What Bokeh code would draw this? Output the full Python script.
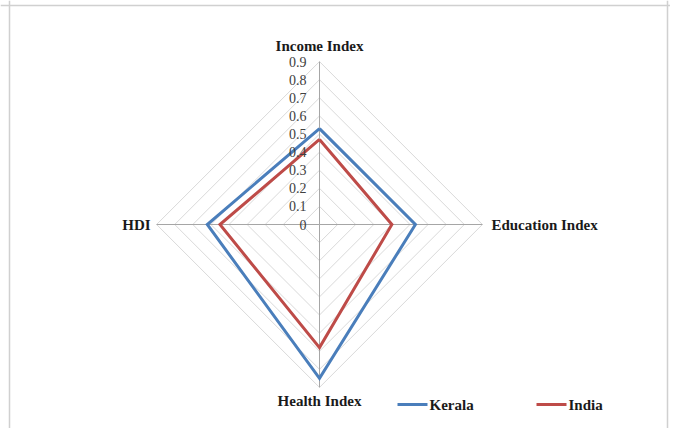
from bokeh.plotting import figure
from bokeh.models import Range1d, Span
from bokeh.core.properties import value
from bokeh.embed import file_html
from bokeh.resources import INLINE
import math

# ---- data ----
categories = ["Income Index", "Education Index", "Health Index", "HDI"]
cat_angles_deg = [90, 0, -90, 180]
series_names = ["Kerala", "India"]
kerala = [0.53, 0.53, 0.85, 0.62]
india = [0.47, 0.40, 0.68, 0.55]
ticks = [0, 0.1, 0.2, 0.3, 0.4, 0.5, 0.6, 0.7, 0.8, 0.9]
tick_labels = ["0", "0.1", "0.2", "0.3", "0.4", "0.5", "0.6", "0.7", "0.8", "0.9"]
r_max = 0.9

# ---- layout ----
W, H = 670, 428
PX = 181.0           # pixels per data unit
cx, cy = 319, 224    # centre in figure pixels
colors = ["#4a7ebb", "#be4b48"]
FONT = value("Times New Roman")

p = figure(width=W, height=H, output_backend="svg", toolbar_location=None,
           x_range=Range1d(-cx / PX, (W - cx) / PX),
           y_range=Range1d(-(H - cy) / PX, cy / PX),
           min_border=0)
p.axis.visible = False
p.grid.visible = False
p.outline_line_color = None
p.background_fill_color = "white"
p.border_fill_color = "white"

def pt(r, ang):
    a = math.radians(ang)
    return r * math.cos(a), r * math.sin(a)

# grid diamonds
for t in ticks[1:]:
    xs, ys = [], []
    for a in cat_angles_deg + [cat_angles_deg[0]]:
        x, y = pt(t, a)
        xs.append(x); ys.append(y)
    p.line(xs, ys, line_color="#d9d9d9", line_width=1)

# spokes
for a in cat_angles_deg:
    x, y = pt(r_max, a)
    p.line([0, x], [0, y], line_color="#a6a6a6", line_width=1)

# series
for vals, col in zip([kerala, india], colors):
    xs, ys = [], []
    for v, a in zip(vals + [vals[0]], cat_angles_deg + [cat_angles_deg[0]]):
        x, y = pt(v, a)
        xs.append(x); ys.append(y)
    p.line(xs, ys, line_color=col, line_width=3, line_join="miter")

# tick labels along top spoke
p.text(x=[-13 / PX] * len(ticks), y=ticks, text=tick_labels,
       text_font=FONT, text_font_size="14px", text_color="#404040",
       text_align="right", text_baseline="middle")

# category labels
lab_off = 16 / PX
for name, a in zip(categories, cat_angles_deg):
    x, y = pt(r_max, a)
    if a == 90:
        kw = dict(x=[x], y=[y + lab_off], text_align="center", text_baseline="middle")
    elif a == -90:
        kw = dict(x=[x], y=[y - 14 / PX], text_align="center", text_baseline="middle")
    elif a == 0:
        kw = dict(x=[x + 9 / PX], y=[y], text_align="left", text_baseline="middle")
    else:
        kw = dict(x=[x - 6 / PX], y=[y], text_align="right", text_baseline="middle")
    p.text(text=[name], text_font=FONT, text_font_size="15px",
           text_font_style="bold", text_color="#1a1a1a", **kw)

# legend (manual)
leg_y = (224 - 404) / PX
leg_x0 = [(397 - 319) / PX, (536 - 319) / PX]
for nm, col, x0 in zip(series_names, colors, leg_x0):
    p.line([x0, x0 + 30 / PX], [leg_y, leg_y], line_color=col, line_width=3)
    p.text(x=[x0 + 32 / PX], y=[leg_y], text=[nm], text_font=FONT,
           text_font_size="15px", text_font_style="bold", text_color="#1a1a1a",
           text_align="left", text_baseline="middle")

# chart-area border (left, top, right)
bc = "#d0d0d0"
p.add_layout(Span(location=(9 - 319) / PX, dimension="height", line_color=bc, line_width=1.5))
p.add_layout(Span(location=(667 - 319) / PX, dimension="height", line_color=bc, line_width=1.5))
p.add_layout(Span(location=(224 - 5) / PX, dimension="width", line_color=bc, line_width=1.5))

open("out.html", "w").write(file_html(p, INLINE))
